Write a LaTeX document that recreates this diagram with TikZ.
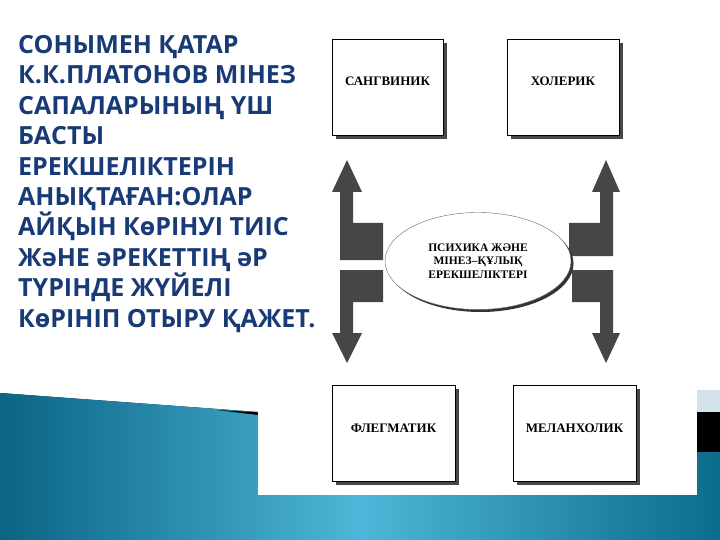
\documentclass[tikz,border=0pt]{standalone}
\usepackage{fontspec}
\setmainfont{Liberation Serif}
\newfontfamily\introfont{Open Sans}
\usetikzlibrary{shapes.geometric,shadows}
\definecolor{introblue}{RGB}{24,58,118}
\definecolor{arrowgray}{RGB}{70,70,70}
\definecolor{tealdark}{RGB}{10,100,132}
\definecolor{teallight}{RGB}{78,182,216}
\definecolor{tealmid}{RGB}{12,108,140}
\definecolor{panelgray}{RGB}{212,226,236}
\tikzset{
  typebox/.style={draw,thin,fill=white,minimum height=96pt,inner sep=0pt,
    text height=9pt,text depth=11pt,
    font=\bfseries\fontsize{13}{13}\selectfont,
    drop shadow={shadow xshift=4pt,shadow yshift=-4pt,fill=black!72,opacity=1}},
  blockarrow/.style={fill=arrowgray},
}

\begin{document}
\begin{tikzpicture}[x=1pt,y=-1pt]
\useasboundingbox (0,0) rectangle (720,540);
\fill[white] (0,0) rectangle (720,540);
\fill[left color=tealdark,right color=tealmid,middle color=teallight]
  (0,393) -- (720,446) -- (720,540) -- (0,540) -- cycle;
\fill[black] (217,410) -- (258,412.3) -- (258,415) -- cycle;
\fill[panelgray] (697,390) rectangle (720,412);
\fill[black] (697,412) rectangle (720,452);
\fill[white] (258,0) rectangle (697,495);
\node[anchor=base west,inner sep=0pt,align=left,text=introblue,
  font=\introfont\bfseries\fontsize{25}{30.4}\selectfont] (intro) at (18,327)
  {СОНЫМЕН ҚАТАР\\К.К.ПЛАТОНОВ МІНЕЗ\\САПАЛАРЫНЫҢ ҮШ\\БАСТЫ\\ЕРЕКШЕЛІКТЕРІН\\АНЫҚТАҒАН:ОЛАР\\АЙҚЫН КөРІНУІ ТИІС\\ЖәНЕ әРЕКЕТТІҢ әР\\ТҮРІНДЕ ЖҮЙЕЛІ\\КөРІНІП ОТЫРУ ҚАЖЕТ.};
\node[typebox,minimum width=111pt] (sanguine) at (387.5,87) {САНГВИНИК};
\node[typebox,minimum width=112pt] (choleric) at (563,87) {ХОЛЕРИК};
\node[typebox,minimum width=123pt] (phlegm) at (393.5,433) {ФЛЕГМАТИК};
\node[typebox,minimum width=123pt] (melan) at (574.5,433) {МЕЛАНХОЛИК};
\fill[blockarrow] (347,160) -- (362,192) -- (353,192) -- (353,223) -- (383,223)
  -- (383,260) -- (340,260) -- (340,192) -- (332,192) -- cycle;
\fill[blockarrow] (340,270) -- (383,270) -- (383,302) -- (353,302) -- (353,333)
  -- (362,333) -- (347,363) -- (332,333) -- (340,333) -- cycle;
\fill[blockarrow] (606,160) -- (620,192) -- (613,192) -- (613,256) -- (569,256)
  -- (569,223) -- (600,223) -- (600,192) -- (592,192) -- cycle;
\fill[blockarrow] (572,270) -- (613,270) -- (613,333) -- (620,333) -- (606,363)
  -- (592,333) -- (600,333) -- (600,302) -- (572,302) -- cycle;
\node[ellipse,draw=black!60,fill=white,minimum width=186pt,minimum height=97pt,
  inner sep=0pt,align=center,font=\bfseries\fontsize{11.5}{13.5}\selectfont,
  drop shadow={shadow xshift=2.5pt,shadow yshift=-2.5pt,fill=black!80,opacity=1}]
  (core) at (478,261) {ПСИХИКА ЖӘНЕ\\МІНЕЗ–ҚҰЛЫҚ\\ЕРЕКШЕЛІКТЕРІ};
\end{tikzpicture}
\end{document}
